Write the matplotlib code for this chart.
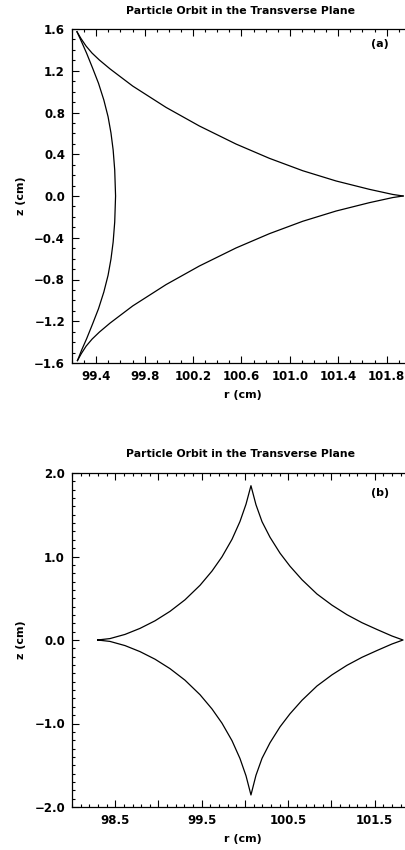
import matplotlib
matplotlib.use("Agg")
import matplotlib.pyplot as plt
from matplotlib.ticker import MultipleLocator, FixedLocator, FixedFormatter

plt.rcParams['font.family'] = ['DejaVu Sans']
plt.rcParams['font.weight'] = 'bold'
plt.rcParams['axes.unicode_minus'] = True

# ---- orbit (a): three-cusped orbit, r and z in cm ----
# upper branch, from the upper-left cusp to the outer cusp
a_upper_r = [99.241, 99.274, 99.316, 99.365, 99.426, 99.514, 99.597, 99.702,
             99.977, 100.252, 100.555, 100.831, 101.107, 101.382, 101.657,
             101.850, 101.936]
a_upper_z = [1.574, 1.509, 1.437, 1.370, 1.303, 1.218, 1.145, 1.053,
             0.849, 0.671, 0.498, 0.361, 0.242, 0.144, 0.064,
             0.015, 0.0]
# lower branch, from the lower-left cusp to the outer cusp
a_lower_r = [99.245, 99.277, 99.317, 99.366, 99.427, 99.514, 99.597, 99.702,
             99.977, 100.252, 100.555, 100.831, 101.107, 101.382, 101.657,
             101.850, 101.936]
a_lower_z = [-1.577, -1.510, -1.438, -1.371, -1.303, -1.218, -1.145, -1.053,
             -0.849, -0.671, -0.498, -0.361, -0.242, -0.144, -0.064,
             -0.015, 0.0]
# inner branch joining the two left cusps
a_left_r = [99.241, 99.280, 99.321, 99.370, 99.419, 99.463, 99.498, 99.522,
            99.540, 99.553, 99.560,
            99.553, 99.540, 99.522, 99.498, 99.463, 99.419, 99.370, 99.321,
            99.280, 99.245]
a_left_z = [1.574, 1.475, 1.367, 1.226, 1.080, 0.920, 0.760, 0.604,
            0.441, 0.249, 0.0,
            -0.249, -0.441, -0.604, -0.760, -0.920, -1.080, -1.226, -1.367,
            -1.475, -1.577]

# ---- orbit (b): four-cusped orbit, traced once around ----
b_r = [98.297, 98.439, 98.613, 98.786, 98.960, 99.133, 99.306, 99.480, 99.618,
       99.734, 99.850, 99.942, 100.012, 100.069,
       100.127, 100.197, 100.289, 100.405, 100.520, 100.659, 100.832, 101.006,
       101.179, 101.353, 101.526, 101.699, 101.827,
       101.699, 101.526, 101.353, 101.179, 101.006, 100.832, 100.659, 100.520,
       100.405, 100.289, 100.197, 100.127, 100.069,
       100.012, 99.942, 99.850, 99.734, 99.618, 99.480, 99.306, 99.133, 98.960,
       98.786, 98.613, 98.439, 98.297]
b_z = [0.0, 0.017, 0.067, 0.139, 0.230, 0.343, 0.481, 0.655, 0.825,
       0.996, 1.206, 1.419, 1.627, 1.848,
       1.620, 1.417, 1.231, 1.040, 0.884, 0.722, 0.551, 0.417,
       0.303, 0.207, 0.126, 0.048, 0.0,
       -0.048, -0.126, -0.207, -0.303, -0.417, -0.551, -0.722, -0.884,
       -1.040, -1.231, -1.417, -1.620, -1.856,
       -1.627, -1.419, -1.206, -0.996, -0.825, -0.655, -0.481, -0.343, -0.230,
       -0.139, -0.067, -0.017, 0.0]

a_xticks = [99.4, 99.8, 100.2, 100.6, 101.0, 101.4, 101.8]
a_yticks = [-1.6, -1.2, -0.8, -0.4, 0.0, 0.4, 0.8, 1.2, 1.6]
b_xticks = [98.5, 99.0, 99.5, 100.0, 100.5, 101.0, 101.5]
b_xticklabels = ['98.5', '', '99.5', '', '100.5', '', '101.5']
b_yticks = [-2.0, -1.0, 0.0, 1.0, 2.0]

title = 'Particle Orbit in the Transverse Plane'

W, H = 406, 850
fig = plt.figure(figsize=(W / 100, H / 100), dpi=100)


def px_axes(left, top, width, height):
    return fig.add_axes([left / W, 1 - (top + height) / H, width / W, height / H])


def fmt(v):
    return f'{v:.1f}'.replace('-', '\u2212')


def style(ax):
    for s in ax.spines.values():
        s.set_linewidth(0.9)
    ax.tick_params(which='both', direction='in', top=True, right=True,
                   labelsize=8.5, width=0.8)
    ax.tick_params(which='major', length=5)
    ax.tick_params(which='minor', length=2.5)
    ax.tick_params(axis='x', pad=5)
    ax.tick_params(axis='y', pad=5)
    for lab in ax.get_xticklabels() + ax.get_yticklabels():
        lab.set_fontweight('bold')


# panel (a)
ax1 = px_axes(72, 29, 342, 334)
ax1.plot(a_upper_r, a_upper_z, color='black', lw=0.9)
ax1.plot(a_lower_r, a_lower_z, color='black', lw=0.9)
ax1.plot(a_left_r, a_left_z, color='black', lw=0.9)
ax1.set_xlim(99.2, 102.026)
ax1.set_ylim(-1.6, 1.6)
ax1.xaxis.set_major_locator(FixedLocator(a_xticks))
ax1.xaxis.set_major_formatter(FixedFormatter([fmt(v) for v in a_xticks]))
ax1.xaxis.set_minor_locator(MultipleLocator(0.1))
ax1.yaxis.set_major_locator(FixedLocator(a_yticks))
ax1.yaxis.set_major_formatter(FixedFormatter([fmt(v) for v in a_yticks]))
ax1.yaxis.set_minor_locator(MultipleLocator(0.1))
style(ax1)
ax1.set_xlabel('r (cm)', fontsize=8, fontweight='bold', labelpad=5)
ax1.set_ylabel('z (cm)', fontsize=8, fontweight='bold')
ax1.yaxis.set_label_coords(-0.135, 0.5)
ax1.text(0.90, 0.955, '(a)', transform=ax1.transAxes, ha='center', va='center',
         fontsize=8, fontweight='bold')
fig.text(240 / W, 1 - 11 / H, title, ha='center', va='center',
         fontsize=7.8, fontweight='bold')

# panel (b)
ax2 = px_axes(72, 473, 342, 334)
ax2.plot(b_r, b_z, color='black', lw=0.9)
ax2.set_xlim(98.0, 101.954)
ax2.set_ylim(-2.0, 2.0)
ax2.xaxis.set_major_locator(FixedLocator(b_xticks))
ax2.xaxis.set_major_formatter(FixedFormatter(b_xticklabels))
ax2.xaxis.set_minor_locator(MultipleLocator(0.1))
ax2.yaxis.set_major_locator(FixedLocator(b_yticks))
ax2.yaxis.set_major_formatter(FixedFormatter([fmt(v) for v in b_yticks]))
ax2.yaxis.set_minor_locator(MultipleLocator(0.1))
style(ax2)
ax2.set_xlabel('r (cm)', fontsize=8, fontweight='bold', labelpad=5)
ax2.set_ylabel('z (cm)', fontsize=8, fontweight='bold')
ax2.yaxis.set_label_coords(-0.135, 0.5)
ax2.text(0.90, 0.94, '(b)', transform=ax2.transAxes, ha='center', va='center',
         fontsize=8, fontweight='bold')
fig.text(240 / W, 1 - 454 / H, title, ha='center', va='center',
         fontsize=7.8, fontweight='bold')

fig.savefig('out.png', dpi=100)
